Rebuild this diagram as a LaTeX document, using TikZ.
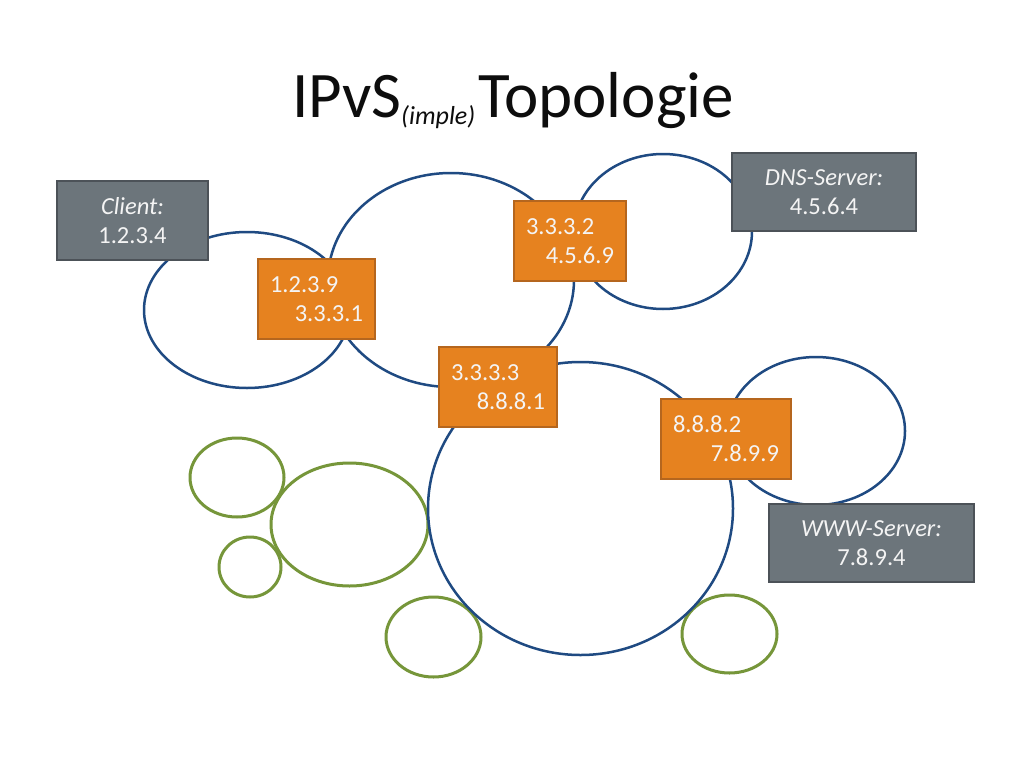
\documentclass[tikz,border=0pt]{standalone}
\usepackage{fontspec}
\setmainfont{Carlito}
\usetikzlibrary{shapes.geometric}
\definecolor{netblue}{HTML}{1F4A82}
\definecolor{netgreen}{HTML}{76963A}
\definecolor{orfill}{HTML}{E6821F}
\definecolor{orline}{HTML}{B5661E}
\definecolor{grfill}{HTML}{6C757B}
\definecolor{grline}{HTML}{4C5258}
\definecolor{boxtext}{HTML}{F4F4F4}
\tikzset{
  net/.style={ellipse, draw=netblue, line width=2.5pt, inner sep=0pt},
  lan/.style={ellipse, draw=netgreen, line width=3pt, inner sep=0pt},
  router/.style={rectangle, draw=orline, fill=orfill, line width=2pt,
    inner xsep=12pt, inner ysep=0pt, minimum height=80pt, align=left,
    text=boxtext, font=\fontsize{24.5}{29}\selectfont},
  host/.style={rectangle, draw=grline, fill=grfill, line width=2pt,
    inner sep=0pt, align=center, text=boxtext,
    font=\fontsize{24.5}{29}\selectfont}
}
\begin{document}
\begin{tikzpicture}[x=1pt,y=-1pt]
\useasboundingbox[fill=white] (0,0) rectangle (1024,768);
% title
\node[anchor=base, inner sep=0pt, text=black!95] (title) at (513,117)
  {\fontsize{65}{72}\selectfont IPvS\raisebox{-7pt}{\fontsize{26}{30}\selectfont\itshape (imple)}\hspace{3pt}Topologie};
% green LANs
\node[lan, minimum width=94pt, minimum height=79pt] (g1) at (237,477.5) {};
\node[lan, minimum width=157pt, minimum height=123pt] (g2) at (349.5,524.5) {};
\node[lan, minimum width=62pt, minimum height=60pt] (g3) at (250,567) {};
\node[lan, minimum width=95pt, minimum height=80pt] (g4) at (433.5,637) {};
\node[lan, minimum width=95pt, minimum height=78pt] (g5) at (729.5,634) {};
% blue networks
\node[net, minimum width=206pt, minimum height=156pt] (n1) at (247,310) {};
\node[net, minimum width=246pt, minimum height=214pt] (n2) at (451,280) {};
\node[net, minimum width=178pt, minimum height=155pt] (n3) at (663,231.5) {};
\node[net, minimum width=305pt, minimum height=293pt] (n4) at (580.5,508.5) {};
\node[net, minimum width=178pt, minimum height=148pt] (n5) at (816,431) {};
% routers
\node[router, text width=93pt] (r1) at (316.5,299) {1.2.3.9\\\hspace*{\fill}3.3.3.1};
\node[router, text width=88pt] (r2) at (570,241) {3.3.3.2\\\hspace*{\fill}4.5.6.9};
\node[router, text width=94pt] (r3) at (498,387) {3.3.3.3\\\hspace*{\fill}8.8.8.1};
\node[router, text width=106pt] (r4) at (726,438.5) {8.8.8.2\\\hspace*{\fill}7.8.9.9};
% hosts
\node[host, minimum width=151pt, minimum height=79pt] (client) at (132.5,220.5) {\textit{Client:}\\1.2.3.4};
\node[host, minimum width=184pt, minimum height=78pt] (dns) at (824,192) {\textit{DNS-Server:}\\4.5.6.4};
\node[host, minimum width=205pt, minimum height=78pt] (www) at (871.5,543) {\textit{WWW-Server:}\\7.8.9.4};
\end{tikzpicture}
\end{document}
